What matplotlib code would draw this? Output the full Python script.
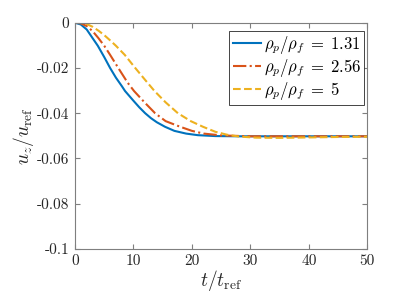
import numpy as np
from matplotlib import pyplot as plt

plt.rcParams["font.family"] = "serif"
plt.rcParams["font.serif"] = ["cmr10"]
plt.rcParams["mathtext.fontset"] = "cm"
plt.rcParams["axes.unicode_minus"] = False

# values
t_blue = [0, 1, 2, 3, 3.9, 5, 6, 7, 8, 8.56, 10, 11, 12, 13, 14, 15.4, 17, 19, 21, 24,
          28, 35, 50]
u_blue = [0, -0.0008, -0.003, -0.0068, -0.0102, -0.0152, -0.020, -0.0243, -0.028,
          -0.0302, -0.0345, -0.0374, -0.040, -0.0422, -0.0440, -0.046, -0.0478,
          -0.0490, -0.0497, -0.0501, -0.0502, -0.0502, -0.0502]

t_orange = [0, 1, 2, 3, 4, 5, 6, 7.4, 9, 10.1, 12, 13.7, 15.5, 18, 20, 22, 25, 30, 40, 50]
u_orange = [0, -0.0003, -0.0015, -0.0037, -0.0068, -0.0102, -0.0142, -0.020, -0.0265,
            -0.0302, -0.0355, -0.040, -0.0435, -0.046, -0.0478, -0.0490, -0.0498,
            -0.0502, -0.0502, -0.0502]

t_yellow = [0, 1, 2, 3, 4, 5, 6, 7, 8.5, 10.3, 12, 13.6, 15.5, 17.6, 19.8, 21.9, 24,
            26, 28, 31, 35, 40, 45, 50]
u_yellow = [0, -0.0001, -0.0006, -0.0018, -0.0035, -0.0055, -0.0078, -0.0102, -0.0142,
            -0.020, -0.0253, -0.0302, -0.0352, -0.040, -0.0435, -0.046, -0.0482,
            -0.0495, -0.0503, -0.0508, -0.0509, -0.0507, -0.0505, -0.0504]

labels = [r"$\rho_p/\rho_f\;=\;1.31$", r"$\rho_p/\rho_f\;=\;2.56$",
          r"$\rho_p/\rho_f\;=\;5$"]
x_ticks = [0, 10, 20, 30, 40, 50]
y_ticks = [0, -0.02, -0.04, -0.06, -0.08, -0.1]
y_tick_labels = ["0", "-0.02", "-0.04", "-0.06", "-0.08", "-0.1"]

fig = plt.figure(figsize=(4.07, 3.05), dpi=100)
ax = fig.add_axes([0.1843, 0.1836, 0.7182, 0.742])

ax.plot(t_blue, u_blue, color="#0072BD", lw=1.5, label=labels[0])
ax.plot(t_orange, u_orange, color="#D95319", lw=1.5, ls="-.", label=labels[1])
ax.plot(t_yellow, u_yellow, color="#EDB120", lw=1.5, ls="--", label=labels[2])

ax.set_xlim(0, 50)
ax.set_ylim(-0.1, 0)
ax.set_xticks(x_ticks)
ax.set_xticklabels([str(v) for v in x_ticks])
ax.set_yticks(y_ticks)
ax.set_yticklabels(y_tick_labels)

axis_col = "#7f7f7f"
for s in ax.spines.values():
    s.set_color(axis_col)
    s.set_linewidth(0.8)
ax.tick_params(direction="in", top=True, right=True, length=3.5,
               color=axis_col, labelsize=11, labelcolor="#262626", pad=4)

ax.set_xlabel(r"$t/t_{\rm ref}$", fontsize=14, color="#262626", labelpad=0)
ax.set_ylabel(r"$u_z/u_{\rm ref}$", fontsize=14, color="#262626", labelpad=1)

leg = ax.legend(loc="upper right", bbox_to_anchor=(0.989, 0.965), fontsize=12,
                fancybox=False, framealpha=1, edgecolor="#262626",
                handlelength=1.7, handletextpad=0.15, borderpad=0.2,
                labelspacing=0.05, borderaxespad=0)
leg.get_frame().set_linewidth(0.6)

fig.savefig("out.png", dpi=100)
